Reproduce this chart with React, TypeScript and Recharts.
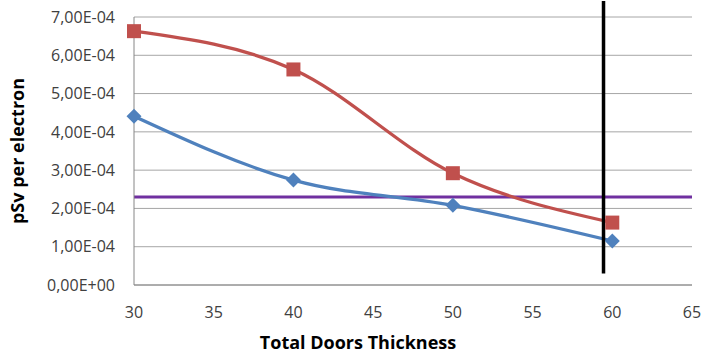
import { LineChart, Line, XAxis, YAxis, CartesianGrid, ReferenceLine } from 'recharts'

const thickness = [30, 40, 50, 60]
const doseRed = [6.63e-4, 5.63e-4, 2.92e-4, 1.63e-4]
const doseBlue = [4.41e-4, 2.74e-4, 2.08e-4, 1.15e-4]
const xTicks = [30, 35, 40, 45, 50, 55, 60, 65]
const yTicks = [0, 1e-4, 2e-4, 3e-4, 4e-4, 5e-4, 6e-4, 7e-4]
const limitDose = 2.3e-4
const cutX = 59.45
const cutY = [0.3e-4, 7.42e-4]

const data = thickness.map((t, i) => ({ t, red: doseRed[i], blue: doseBlue[i] }))

const fmtSci = (v: number) => {
  if (v === 0) return '0,00E+00'
  const [m, e] = v.toExponential(2).split('e')
  const exp = Number(e)
  const sign = exp < 0 ? '-' : '+'
  return `${m.replace('.', ',')}E${sign}${String(Math.abs(exp)).padStart(2, '0')}`
}

const font = '"Open Sans", sans-serif'

const Square = (props: any) => {
  const { cx, cy } = props
  if (cx == null || cy == null) return null
  return <rect x={cx - 7} y={cy - 7} width={14} height={14} fill="#C0504D" />
}

const Diamond = (props: any) => {
  const { cx, cy } = props
  if (cx == null || cy == null) return null
  return <path d={`M${cx},${cy - 7.5}L${cx + 7.5},${cy}L${cx},${cy + 7.5}L${cx - 7.5},${cy}Z`} fill="#4F81BD" />
}

export default function App() {
  return (
    <div style={{ position: 'absolute', left: 0, top: 0, background: '#fff' }}>
      <LineChart width={705} height={355} data={data} margin={{ top: 17, right: 13, bottom: 0, left: 0 }}>
        <CartesianGrid vertical={false} stroke="#A6A6A6" />
        <XAxis
          type="number"
          dataKey="t"
          domain={[30, 65]}
          ticks={xTicks}
          height={70}
          tickSize={0}
          tickMargin={22}
          stroke="#868686"
          tick={{ fill: '#404040', fontSize: 16, fontFamily: font }}
          label={{ value: 'Total Doors Thickness', position: 'insideBottom', dx: -55, offset: 6, style: { fontSize: 18, fontWeight: 700, fill: '#000', fontFamily: font } }}
        />
        <YAxis
          type="number"
          domain={[0, 7e-4]}
          ticks={yTicks}
          width={134}
          tickSize={0}
          tickMargin={19}
          stroke="#868686"
          tickFormatter={fmtSci}
          tick={{ fill: '#404040', fontSize: 16, fontFamily: font }}
          label={{ value: 'pSv per electron', angle: -90, position: 'insideLeft', offset: 18, style: { textAnchor: 'middle', fontSize: 18, fontWeight: 700, fill: '#000', fontFamily: font } }}
        />
        <ReferenceLine y={limitDose} stroke="#7030A0" strokeWidth={3} />
        <Line type="monotone" dataKey="blue" stroke="#4F81BD" strokeWidth={3.25} dot={<Diamond />} isAnimationActive={false} />
        <Line type="monotone" dataKey="red" stroke="#C0504D" strokeWidth={3.25} dot={<Square />} isAnimationActive={false} />
        <ReferenceLine
          segment={[{ x: cutX, y: cutY[0] }, { x: cutX, y: cutY[1] }]}
          stroke="#000"
          strokeWidth={3.5}
          ifOverflow="visible"
        />
      </LineChart>
    </div>
  )
}
